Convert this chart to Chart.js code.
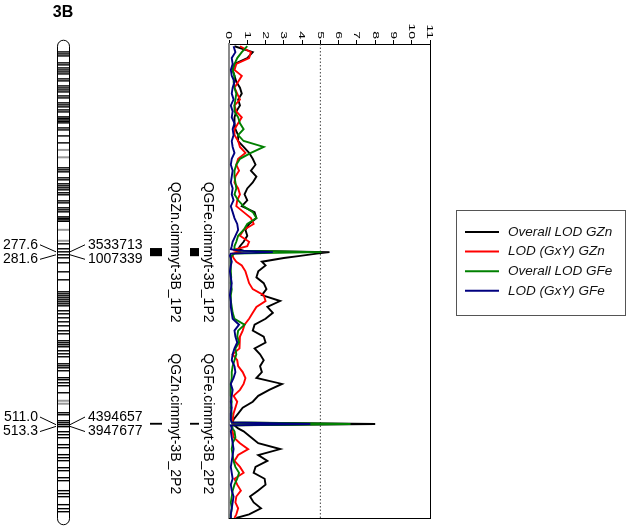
<!DOCTYPE html>
<html>
<head>
<meta charset="utf-8">
<script src="https://cdn.jsdelivr.net/npm/chart.js"></script>
<style>html,body{margin:0;padding:0;background:#fff}</style>
</head>
<body>
<canvas id="c" width="630" height="529"></canvas>
<script>
// position along chromosome 3B (cM)
const positions = [0,8,16,24,32,40,48,56,64,72,
  80,88,96,104,112,120,128,136,144,152,
  160,168,176,184,192,200,208,216,224,232,
  240,248,256,264,270,274,276,278,280,283,
  286,291,296,304,312,320,328,336,344,352,
  360,368,376,384,392,400,408,416,424,432,
  440,448,456,464,472,480,488,496,504,508,
  510,512,516,520,528,536,544,552,560,568,
  576,584,592,600,608,616,624,632,637]

const overallGZn = [0.3,1.3,1.0,0.3,0.2,0.3,0.4,0.6,0.7,0.5,
  0.6,0.4,0.3,0.3,0.35,0.5,0.5,0.8,1.1,1.3,
  1.45,1.2,1.5,1.3,1.0,0.85,1.0,0.7,1.4,1.5,
  1.1,0.9,1.0,0.8,0.6,0.5,0.8,5.5,4.8,3.9,
  3.0,1.8,2.0,1.6,1.5,1.9,2.05,1.8,2.8,2.1,
  2.4,2.0,1.4,1.3,1.9,2.0,1.4,1.7,1.9,1.7,
  1.8,1.5,2.9,2.2,1.6,1.3,0.75,0.5,0.25,0.2,
  8.0,0.3,0.5,0.8,1.2,1.6,2.8,1.6,2.1,1.45,
  1.35,1.95,2.0,1.6,1.15,1.35,1.75,1.1,0.4]

const gxyGZn = [0.6,1.2,1.1,0.4,0.3,0.7,0.5,0.3,0.45,0.6,
  0.3,0.4,0.7,0.5,0.3,0.3,0.5,0.6,0.9,0.5,
  0.4,0.55,0.35,0.3,0.5,0.6,0.45,0.4,0.8,1.2,
  1.35,0.8,0.6,1.1,1.0,0.4,0.3,0.6,0.2,0.2,
  0.25,0.4,0.7,0.9,1.0,1.1,1.3,1.9,2.0,1.5,
  1.3,1.1,0.85,0.75,0.6,0.55,0.6,0.2,0.45,0.5,
  0.75,0.9,0.8,0.6,0.25,0.45,0.35,0.25,0.2,0.2,
  0.3,0.2,0.15,0.2,0.25,0.6,1.05,0.5,0.3,0.6,
  0.8,0.3,0.45,0.65,0.4,0.35,0.5,0.4,0.3]

const overallGFe = [1.0,0.7,0.45,0.3,0.2,0.3,0.25,0.3,0.4,0.35,
  0.3,0.3,0.5,0.6,0.8,0.5,0.8,1.9,1.2,0.6,
  0.4,0.3,0.3,0.35,0.4,0.3,0.5,0.8,1.3,1.5,
  1.0,0.8,0.5,0.4,0.3,0.3,0.5,5.05,0.3,0.15,
  0.1,0.1,0.1,0.1,0.12,0.1,0.15,0.1,0.1,0.15,
  0.2,0.3,0.85,0.5,0.45,0.55,0.35,0.4,0.3,0.2,
  0.15,0.15,0.1,0.1,0.1,0.15,0.1,0.15,0.1,0.15,
  6.65,0.15,0.2,0.3,0.35,0.2,0.15,0.2,0.25,0.35,
  0.55,0.45,0.3,0.2,0.15,0.1,0.15,0.1,0.1]

const gxyGFe = [0.25,0.35,0.15,0.2,0.1,0.15,0.3,0.2,0.15,0.25,
  0.1,0.2,0.15,0.3,0.2,0.25,0.15,0.2,0.3,0.15,
  0.1,0.2,0.15,0.1,0.2,0.15,0.25,0.1,0.2,0.3,
  0.45,0.5,0.35,0.2,0.15,0.1,0.6,2.4,0.1,0.05,
  0.1,0.15,0.1,0.05,0.1,0.15,0.1,0.05,0.1,0.1,
  0.15,0.2,0.55,0.3,0.35,0.45,0.3,0.2,0.15,0.3,
  0.35,0.25,0.1,0.2,0.15,0.1,0.15,0.1,0.1,0.15,
  4.45,0.1,0.15,0.1,0.15,0.2,0.25,0.2,0.15,0.1,
  0.15,0.2,0.1,0.15,0.25,0.2,0.15,0.1,0.1]

const seriesNames = ['Overall LOD GZn', 'LOD (GxY) GZn', 'Overall LOD GFe', 'LOD (GxY) GFe']
const seriesColors = ['#000000', '#ff0000', '#008000', '#00007f']
const lodTicks = [0,1,2,3,4,5,6,7,8,9,10,11]
const threshold = 5

// chromosome map
const chrName = '3B'
const chrLength = 638
const bands = [7.7,10.4,13.1,22.5,25.2,29.3,32,34.7,37.4,44.1,46.8,53.6,56.3,59,61.7,67.1,69.8,
  76.5,79.2,81.9,86,88.7,95.4,97.4,99.5,101.5,103.5,110.3,113,121.1,130.5,164.2,166.9,169.6,
  177.7,180.4,185.8,188.5,191.2,193.9,197.9,200.6,208.8,211.5,218.2,220.9,223.6,230.4,232.4,
  234.4,236.4,266.8,273.5,277.6,281.6,285.7,292.4,304.6,315.4,331.6,334.3,337,339.7,342.4,
  345.1,347.8,350.5,357.2,361.3,366.7,372.1,377.5,384.2,388.3,397.7,400.4,403.1,405.8,411.2,
  415.3,419.3,428.8,431.5,434.2,438.2,447.6,450.3,454.4,458.4,467.9,494.9,497.6,505.7,508.4,
  511,513.7,520.5,524.5,528.6,538,542.1,551.5,555.6,559.6,569.1,573.1,582.6,586.6,600.1,
  604.1,608.2,619,624.4,628.5]
const greyBands = [140, 150, 247.9, 262.7, 478.7, 482.7]
const markerCm = [277.6, 281.6, 511.0, 513.3]
const markerText = ['277.6', '281.6', '511.0', '513.3']
const markerIds = ['3533713', '1007339', '4394657', '3947677']
const qtlNames = ['QGZn.cimmyt-3B_1P2', 'QGFe.cimmyt-3B_1P2', 'QGZn.cimmyt-3B_2P2', 'QGFe.cimmyt-3B_2P2']
const qtlFrom = [272.5, 272.5, 508.5, 508.5]
const qtlTo = [283.5, 283.5, 511, 511]

const yMin = -3, yMax = 637
const FONT = '"Liberation Sans", Arial, sans-serif'

const toPoints = vals => vals.map((v, i) => ({x: v, y: positions[i]}))
const series = [overallGZn, gxyGZn, overallGFe, gxyGFe]

const datasets = series.map((vals, i) => ({
  label: seriesNames[i],
  data: toPoints(vals),
  borderColor: seriesColors[i],
  borderWidth: 1.9,
  showLine: true,
  pointRadius: 0,
  tension: 0,
  order: 4 - i
}))
datasets.push({
  label: 'threshold',
  data: [{x: threshold, y: yMin}, {x: threshold, y: yMax}],
  borderColor: '#444',
  borderWidth: 1,
  borderDash: [1.5, 2],
  showLine: true,
  pointRadius: 0,
  order: 9
})

const decor = {
  id: 'decor',
  afterDraw(chart) {
    const ctx = chart.ctx
    const xs = chart.scales.x, ys = chart.scales.y, area = chart.chartArea
    ctx.save()
    ctx.fillStyle = '#000'

    // LOD tick labels, turned like the plot
    ctx.font = '14px ' + FONT
    lodTicks.forEach(t => {
      ctx.save()
      ctx.translate(xs.getPixelForValue(t), area.top - 5)
      ctx.rotate(Math.PI / 2)
      ctx.scale(1, 0.68)
      ctx.textAlign = 'right'
      ctx.textBaseline = 'middle'
      ctx.fillText(String(t), 0, 0)
      ctx.restore()
    })

    // title
    ctx.font = 'bold 16px ' + FONT
    ctx.textAlign = 'center'
    ctx.textBaseline = 'middle'
    ctx.fillText(chrName, 63, 13)

    // chromosome
    const cx = 57, cw = 12
    const top = ys.getPixelForValue(0), bot = ys.getPixelForValue(chrLength)
    ctx.beginPath()
    ctx.roundRect(cx + 0.5, top - 6, cw, bot - top + 12, 6)
    ctx.fillStyle = '#fff'
    ctx.fill()
    ctx.save()
    ctx.clip()
    ctx.fillStyle = '#999'
    greyBands.forEach(b => ctx.fillRect(cx, ys.getPixelForValue(b) - 1, cw + 1, 2))
    ctx.fillStyle = '#000'
    bands.forEach(b => ctx.fillRect(cx, ys.getPixelForValue(b) - 0.7, cw + 1, 1.4))
    ctx.restore()
    ctx.strokeStyle = '#000'
    ctx.lineWidth = 1
    ctx.stroke()
    ctx.fillStyle = '#000'

    // markers with connectors
    ctx.font = '14px ' + FONT
    ctx.textBaseline = 'middle'
    ctx.lineWidth = 1
    for (let i = 0; i < markerCm.length; i += 2) {
      const p1 = ys.getPixelForValue(markerCm[i]), p2 = ys.getPixelForValue(markerCm[i + 1])
      const mid = (p1 + p2) / 2
      const ly = [mid - 8.5, mid + 6]
      ;[p1, p2].forEach((p, k) => {
        ctx.beginPath()
        ctx.moveTo(40, ly[k]); ctx.lineTo(56, p)
        ctx.moveTo(70, p); ctx.lineTo(85, ly[k])
        ctx.stroke()
        ctx.textAlign = 'right'
        ctx.fillText(markerText[i + k], 38, ly[k])
        ctx.textAlign = 'left'
        ctx.fillText(markerIds[i + k], 88, ly[k])
      })
    }

    // QTL intervals and names
    const barX = [150, 190], barW = [12, 9], textX = [175, 208]
    qtlNames.forEach((name, i) => {
      const col = i % 2
      const a = ys.getPixelForValue(qtlFrom[i]), b = ys.getPixelForValue(qtlTo[i])
      ctx.fillRect(barX[col], a, barW[col], b - a)
      ctx.save()
      ctx.translate(textX[col], (a + b) / 2)
      ctx.rotate(Math.PI / 2)
      ctx.textAlign = 'center'
      ctx.textBaseline = 'middle'
      ctx.fillText(name, 0, 0)
      ctx.restore()
    })

    // legend box
    ctx.strokeStyle = '#555'
    ctx.strokeRect(456.5, 210.5, 169, 105)
    ctx.font = 'italic 13.5px ' + FONT
    ctx.textAlign = 'left'
    ctx.textBaseline = 'middle'
    seriesNames.forEach((name, i) => {
      const y = 232 + i * 19.6
      ctx.strokeStyle = seriesColors[i]
      ctx.lineWidth = 2
      ctx.beginPath(); ctx.moveTo(465, y); ctx.lineTo(499, y); ctx.stroke()
      ctx.fillStyle = '#111'
      ctx.fillText(name, 508, y)
    })
    ctx.restore()
  }
}

new Chart(document.getElementById('c'), {
  type: 'scatter',
  data: {datasets: datasets},
  options: {
    responsive: false,
    animation: false,
    layout: {padding: {left: 229, right: 200, top: 40, bottom: 11}},
    plugins: {legend: {display: false}, tooltip: {enabled: false}},
    scales: {
      x: {
        type: 'linear', position: 'top', min: 0, max: 11,
        ticks: {display: false, stepSize: 1},
        grid: {display: true, drawOnChartArea: false, drawTicks: true, tickLength: 4, color: '#000'},
        border: {color: '#000', width: 1}
      },
      y: {
        type: 'linear', reverse: true, min: yMin, max: yMax,
        ticks: {display: false},
        grid: {display: false, drawTicks: false},
        border: {color: '#8a8a8a', width: 2}
      },
      xb: {
        type: 'linear', position: 'bottom',
        ticks: {display: false}, grid: {display: false, drawTicks: false},
        border: {color: '#000', width: 1}
      },
      yr: {
        type: 'linear', position: 'right',
        ticks: {display: false}, grid: {display: false, drawTicks: false},
        border: {color: '#000', width: 1}
      }
    }
  },
  plugins: [decor]
})
</script>
</body>
</html>
